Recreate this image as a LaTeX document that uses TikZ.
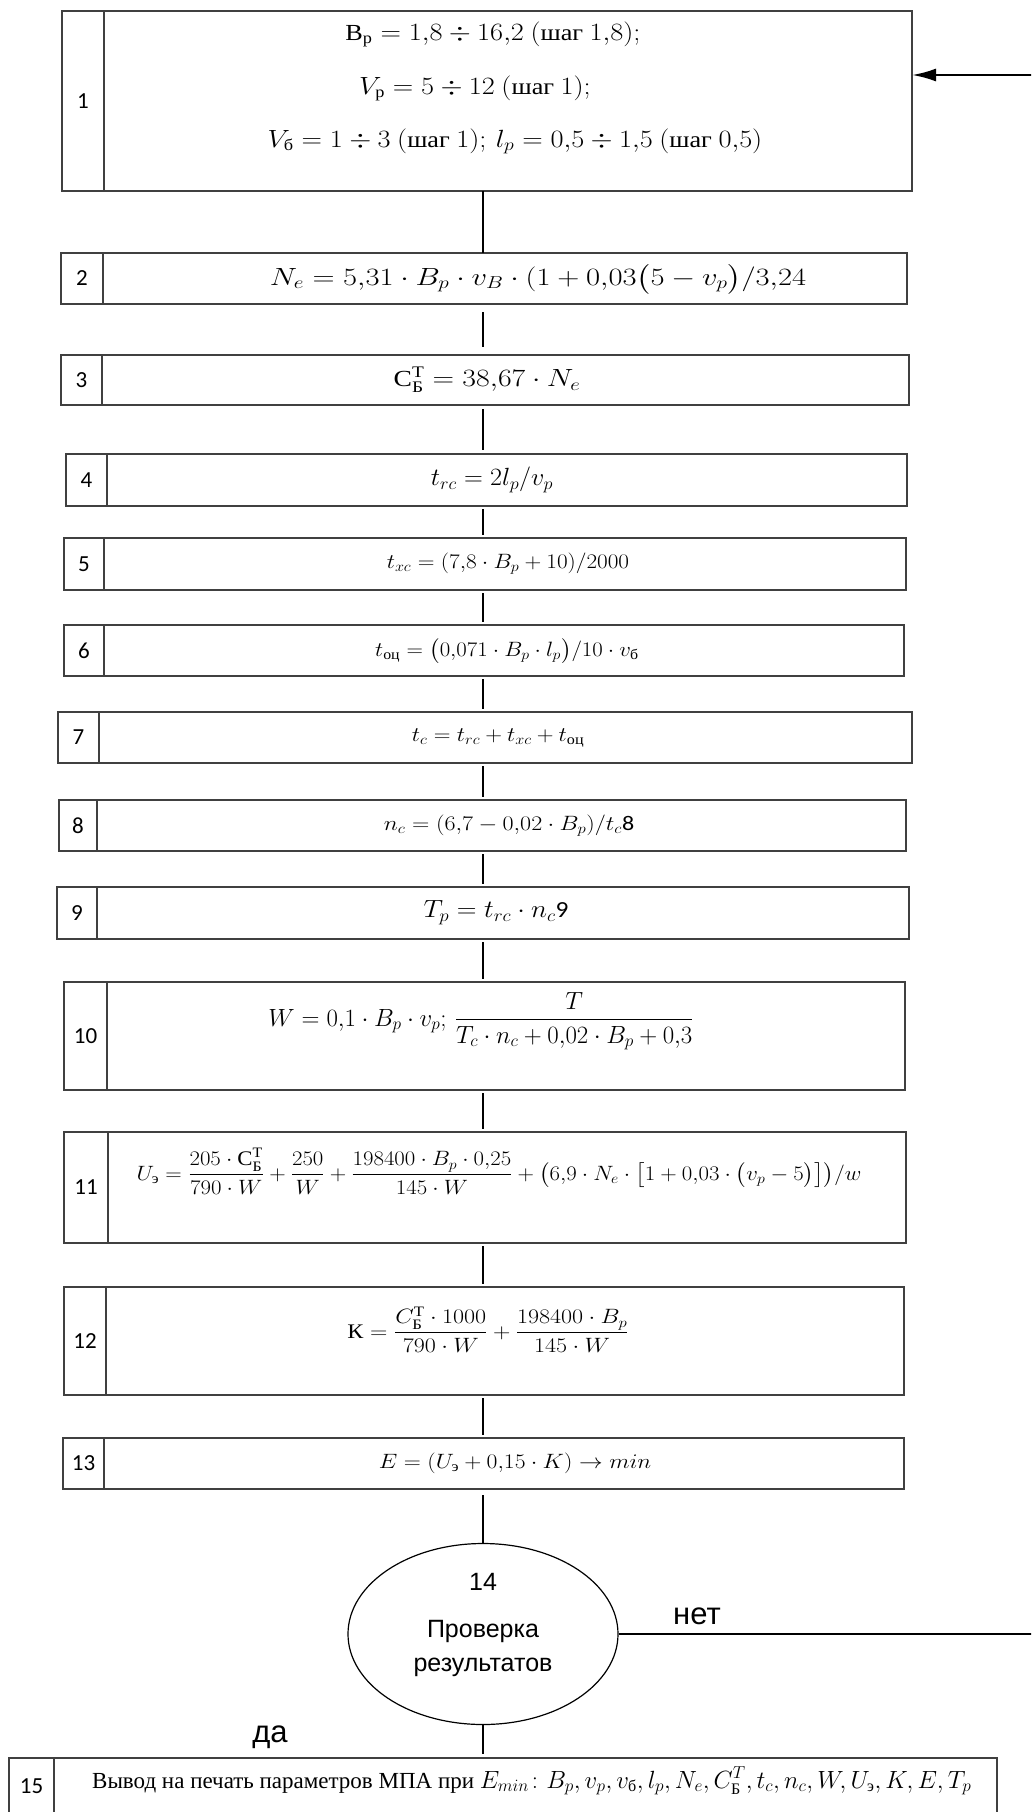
\documentclass[tikz,border=0pt]{standalone}
\usepackage{amsmath}
\usepackage{graphicx}
\usepackage{fontspec}
\setmainfont{Liberation Serif}
\newfontfamily\calib{Carlito}
\newfontfamily\arial{Liberation Sans}
\usetikzlibrary{arrows.meta,shapes.geometric}
\newcommand\rutext[1]{\text{#1}}
\newcommand\wide[2]{\scalebox{#1}[1]{#2}}
\tikzset{
  cellbox/.style={draw=black!75, line width=1.3pt, inner sep=0pt, outer sep=0pt, anchor=north west},
  numtxt/.style={font=\calib\fontsize{23}{27}\selectfont, inner sep=0pt},
  frm/.style={font=\fontsize{23}{28}\selectfont, inner sep=0pt},
  frmsmall/.style={font=\fontsize{20.74}{25}\selectfont, inner sep=0pt},
  link/.style={line width=2.4pt, draw=black},
  sanstxt/.style={font=\arial\fontsize{31}{35}\selectfont, inner sep=0pt, anchor=base},
}
\newcommand\flowcell[7]{%
  \node[cellbox, minimum width={(#3)-(#2)}, minimum height={(#6)-(#5)}] (#1n) at (#2,#5) {};
  \node[cellbox, minimum width={(#4)-(#3)}, minimum height={(#6)-(#5)}] (#1) at (#3,#5) {};
  \node[numtxt] (#1t) at (#1n.center) {#7};
}
\begin{document}
\begin{tikzpicture}[x=1pt,y=-1pt]
\useasboundingbox (0,0) rectangle (1031,1812);
\fill[white] (0,0) rectangle (1031,1812);
\clip (0,0) rectangle (1031,1812);

\flowcell{b1}{62}{104}{912}{11}{191}{1}
\flowcell{b2}{61}{103}{907}{253}{304}{2}
\flowcell{b3}{61}{102}{909}{355}{405}{3}
\flowcell{b4}{66}{107}{907}{454}{506}{4}
\flowcell{b5}{64}{104}{906}{538}{590}{5}
\flowcell{b6}{64}{104}{904}{625}{676}{6}
\flowcell{b7}{58}{99}{912}{712}{763}{7}
\flowcell{b8}{59}{97}{906}{800}{851}{8}
\flowcell{b9}{57}{97}{909}{887}{939}{9}
\flowcell{b10}{64}{107}{905}{982}{1090}{10}
\flowcell{b11}{64}{108}{906}{1132}{1243}{11}
\flowcell{b12}{64}{106}{904}{1287}{1395}{12}
\flowcell{b13}{63}{104}{904}{1438}{1489}{13}
\flowcell{b15}{9}{54}{997}{1758}{1840}{}
\node[numtxt] (b15t) at (31.5,1786) {15};

% formulas
\node[frm, anchor=base] (f1a) at (493,40) {\wide{1.14}{$\rutext{В}_{\rutext{р}} = 1{,}8 \div 16{,}2\ (\rutext{шаг}\ 1{,}8);$}};
\node[frm, anchor=base] (f1b) at (475,94) {\wide{1.14}{$V_{\rutext{р}} = 5 \div 12\ (\rutext{шаг}\ 1);$}};
\node[frm, anchor=base] (f1c) at (515,147) {\wide{1.14}{$V_{\rutext{б}} = 1 \div 3\ (\rutext{шаг}\ 1);\, l_p = 0{,}5 \div 1{,}5\ (\rutext{шаг}\ 0{,}5)$}};
\node[frm] (f2) at (538,279) {\wide{1.23}{$N_e = 5{,}31\cdot B_p\cdot v_B\cdot(1+0{,}03\bigl(5-v_p\bigr)/3{,}24$}};
\node[frm] (f3) at (487,380) {\wide{1.2}{$\rutext{С}^{\rutext{Т}}_{\rutext{Б}} = 38{,}67\cdot N_e$}};
\node[frm] (f4) at (492,480) {\wide{1.05}{$t_{rc} = 2l_p/v_p$}};
\node[frmsmall] (f5) at (508,564) {\wide{1.12}{$t_{xc} = (7{,}8\cdot B_p + 10)/2000$}};
\node[frmsmall] (f6) at (507,651) {\wide{1.1}{$t_{\rutext{оц}} = \bigl(0{,}071\cdot B_p\cdot l_p\bigr)/10\cdot v_{\rutext{б}}$}};
\node[frmsmall] (f7) at (498,738) {\wide{1.12}{$t_c = t_{rc} + t_{xc} + t_{\rutext{оц}}$}};
\node[frmsmall] (f8) at (509,826) {\wide{1.16}{$n_c = (6{,}7 - 0{,}02\cdot B_p)/t_c\text{\calib 8}$}};
\node[frm] (f9) at (496,913) {\wide{1.1}{$T_p = t_{rc}\cdot n_c\text{\calib 9}$}};
\node[frm, anchor=base] (f10) at (481,1026) {$W = 0{,}1\cdot B_p\cdot v_p;\, \dfrac{T}{T_c\cdot n_c + 0{,}02\cdot B_p + 0{,}3}$};
\node[frmsmall, anchor=base] (f11) at (499,1180) {\wide{1.1}{$U_{\rutext{э}} = \dfrac{205\cdot \rutext{С}^{\rutext{Т}}_{\rutext{Б}}}{790\cdot W} + \dfrac{250}{W} + \dfrac{198400\cdot B_p\cdot 0{,}25}{145\cdot W} + \bigl(6{,}9\cdot N_e\cdot\bigl[1+0{,}03\cdot\bigl(v_p-5\bigr)\bigr]\bigr)/w$}};
\node[frmsmall, anchor=base] (f12) at (488,1338) {\wide{1.16}{$\rutext{К} = \dfrac{C^{\rutext{Т}}_{\rutext{Б}}\cdot 1000}{790\cdot W} + \dfrac{198400\cdot B_p}{145\cdot W}$}};
\node[frmsmall] (f13) at (515,1463) {\wide{1.14}{$E = (U_{\rutext{э}} + 0{,}15\cdot K) \rightarrow min$}};
\node[frm, anchor=base west] (f15) at (92,1788) {Вывод на печать параметров МПА при $E_{min}\colon B_p, v_p, v_{\rutext{б}}, l_p, N_e, C^T_{\rutext{Б}}, t_c, n_c, W, U_{\rutext{э}}, K, E, T_p$};

% decision
\node[ellipse, draw, line width=1.2pt, minimum width=270pt, minimum height=181pt, inner sep=0pt] (b14) at (483,1634) {};
\node[font=\arial\fontsize{25}{34}\selectfont, align=center, inner sep=0pt] (t14) at (483,1625) {14\\[13pt]Проверка\\результатов};
\node[sanstxt] (no) at (697,1624) {нет};
\node[sanstxt] (yes) at (270,1742) {да};

% connectors
\coordinate (ax) at (483,0);
\coordinate (ret) at (1036,75);
\draw[link] (b1.south -| ax) -- (b2.north -| ax);
\draw[link, shorten <=8pt, shorten >=8pt] (b2.south -| ax) -- (b3.north -| ax);
\draw[link, shorten <=4pt, shorten >=4pt] (b3.south -| ax) -- (b4.north -| ax);
\draw[link, shorten <=3pt, shorten >=3pt] (b4.south -| ax) -- (b5.north -| ax);
\draw[link, shorten <=3pt, shorten >=3pt] (b5.south -| ax) -- (b6.north -| ax);
\draw[link, shorten <=3pt, shorten >=3pt] (b6.south -| ax) -- (b7.north -| ax);
\draw[link, shorten <=3pt, shorten >=3pt] (b7.south -| ax) -- (b8.north -| ax);
\draw[link, shorten <=3pt, shorten >=3pt] (b8.south -| ax) -- (b9.north -| ax);
\draw[link, shorten <=3pt, shorten >=3pt] (b9.south -| ax) -- (b10.north -| ax);
\draw[link, shorten <=3pt, shorten >=3pt] (b10.south -| ax) -- (b11.north -| ax);
\draw[link, shorten <=3pt, shorten >=3pt] (b11.south -| ax) -- (b12.north -| ax);
\draw[link, shorten <=3pt, shorten >=3pt] (b12.south -| ax) -- (b13.north -| ax);
\draw[link, shorten <=6pt] (b13.south -| ax) -- (b14.north);
\draw[link, shorten >=4pt] (b14.south) -- (b15.north -| ax);
\draw[link, -{Latex[length=24pt,width=13pt]}] (b14.east) -- (b14.east -| ret) -- (ret) -- (ret -| b1.east);
\end{tikzpicture}
\end{document}
